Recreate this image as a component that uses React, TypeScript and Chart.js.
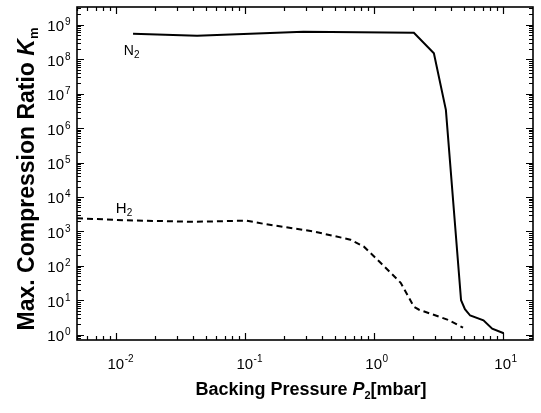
import React, { useEffect, useRef } from "react";
import { Chart, registerables } from "chart.js";

Chart.register(...registerables);

// Backing pressure P2 [mbar] and max. compression ratio Km
const n2Pressure = [0.0136, 0.0427, 0.285, 2.05, 2.93, 3.63, 4.76, 5.1, 5.6, 7.1, 8.3, 10.2];
const n2Ratio = [5.5e8, 4.8e8, 6.3e8, 5.9e8, 1.5e8, 3.4e6, 10, 5.5, 3.6, 2.6, 1.5, 1.1];

const h2Pressure = [0.005, 0.0122, 0.04, 0.103, 0.139, 0.341, 0.66, 0.84, 1.13, 1.62, 2.05, 2.25, 3.77, 4.93];
const h2Ratio = [2400, 2100, 1900, 2050, 1670, 1000, 575, 360, 123, 32, 6.5, 5.3, 2.7, 1.6];

const xDecades = [-2, -1, 0, 1];
const yDecades = [0, 1, 2, 3, 4, 5, 6, 7, 8, 9];

const xMin = 0.005;
const xMax = 17.2;
const yMin = 0.72;
const yMax = 3.3e9;

const FONT = '"Liberation Sans", Arial, Helvetica, sans-serif';

type Part = { text: string; font: string; dy: number };

function drawParts(ctx: CanvasRenderingContext2D, parts: Part[], x: number, y: number, align: "left" | "center" | "right") {
  let total = 0;
  const widths = parts.map((p) => {
    ctx.font = p.font;
    const w = ctx.measureText(p.text).width;
    total += w;
    return w;
  });
  let cx = align === "left" ? x : align === "center" ? x - total / 2 : x - total;
  ctx.textAlign = "left";
  parts.forEach((p, i) => {
    ctx.font = p.font;
    ctx.fillText(p.text, cx, y + p.dy);
    cx += widths[i];
  });
}

const decorPlugin = {
  id: "decor",
  afterDraw(chart: any) {
    const { ctx, chartArea: a, scales } = chart;
    const xs = scales.x;
    const ys = scales.y;
    ctx.save();
    ctx.strokeStyle = "#000";
    ctx.fillStyle = "#000";

    // ticks (inward, mirrored on all sides)
    ctx.lineWidth = 1.2;
    ctx.beginPath();
    for (let d = -3; d <= 1; d++) {
      for (let m = 1; m <= 9; m++) {
        const v = m * Math.pow(10, d);
        if (v < xMin * 0.999 || v > xMax) continue;
        const px = Math.round(xs.getPixelForValue(v)) + 0.5;
        const len = m === 1 ? 7 : 4;
        ctx.moveTo(px, a.bottom);
        ctx.lineTo(px, a.bottom - len);
        ctx.moveTo(px, a.top);
        ctx.lineTo(px, a.top + len);
      }
    }
    for (let d = -1; d <= 9; d++) {
      for (let m = 1; m <= 9; m++) {
        const v = m * Math.pow(10, d);
        if (v < yMin || v > yMax) continue;
        const py = Math.round(ys.getPixelForValue(v)) + 0.5;
        const len = m === 1 ? 7 : 4;
        ctx.moveTo(a.left, py);
        ctx.lineTo(a.left + len, py);
        ctx.moveTo(a.right, py);
        ctx.lineTo(a.right - len, py);
      }
    }
    ctx.stroke();

    // frame
    ctx.lineWidth = 1.6;
    ctx.strokeRect(a.left, a.top, a.right - a.left, a.bottom - a.top);

    // x tick labels
    ctx.textBaseline = "alphabetic";
    xDecades.forEach((e) => {
      const px = xs.getPixelForValue(Math.pow(10, e));
      ctx.font = `15px ${FONT}`;
      const w10 = ctx.measureText("10").width;
      ctx.textAlign = "left";
      ctx.fillText("10", px - w10 / 2, 369);
      ctx.font = `10px ${FONT}`;
      ctx.fillText(String(e), px + w10 / 2 + 0.5, 362);
    });

    // y tick labels
    yDecades.forEach((e) => {
      const py = ys.getPixelForValue(Math.pow(10, e));
      ctx.font = `15px ${FONT}`;
      ctx.textAlign = "right";
      ctx.fillText("10", 64, py + 6.5);
      ctx.textAlign = "left";
      ctx.font = `10px ${FONT}`;
      ctx.fillText(String(e), 65, py + 0.5);
    });

    // x title
    drawParts(
      ctx,
      [
        { text: "Backing Pressure ", font: `bold 18px ${FONT}`, dy: 0 },
        { text: "P", font: `italic bold 18px ${FONT}`, dy: 0 },
        { text: "2", font: `bold 11px ${FONT}`, dy: 4 },
        { text: "[mbar]", font: `bold 18px ${FONT}`, dy: 0 },
      ],
      311,
      395,
      "center"
    );

    // y title (rotated)
    ctx.save();
    ctx.translate(34, 179);
    ctx.rotate(-Math.PI / 2);
    drawParts(
      ctx,
      [
        { text: "Max. Compression Ratio ", font: `bold 23px ${FONT}`, dy: 0 },
        { text: "K", font: `italic bold 23px ${FONT}`, dy: 0 },
        { text: "m", font: `bold 13px ${FONT}`, dy: 4 },
      ],
      0,
      0,
      "center"
    );
    ctx.restore();

    // series labels
    const nx = xs.getPixelForValue(0.01154);
    const ny = ys.getPixelForValue(1.35e8);
    drawParts(
      ctx,
      [
        { text: "N", font: `14px ${FONT}`, dy: 0 },
        { text: "2", font: `10px ${FONT}`, dy: 3 },
      ],
      nx,
      ny,
      "left"
    );
    const hx = xs.getPixelForValue(0.01);
    const hy = ys.getPixelForValue(3480);
    drawParts(
      ctx,
      [
        { text: "H", font: `15px ${FONT}`, dy: 0 },
        { text: "2", font: `10px ${FONT}`, dy: 3 },
      ],
      hx,
      hy,
      "left"
    );

    ctx.restore();
  },
};

export default function App() {
  const ref = useRef<HTMLCanvasElement | null>(null);

  useEffect(() => {
    if (!ref.current) return;
    const chart = new Chart(ref.current, {
      type: "line",
      data: {
        datasets: [
          {
            label: "N2",
            data: n2Pressure.map((p, i) => ({ x: p, y: n2Ratio[i] })),
            borderColor: "#000",
            borderWidth: 2,
            pointRadius: 0,
            fill: false,
            tension: 0,
          },
          {
            label: "H2",
            data: h2Pressure.map((p, i) => ({ x: p, y: h2Ratio[i] })),
            borderColor: "#000",
            borderWidth: 2,
            borderDash: [6, 4],
            pointRadius: 0,
            fill: false,
            tension: 0,
          },
        ],
      },
      options: {
        animation: false,
        responsive: false,
        maintainAspectRatio: false,
        layout: { padding: { left: 0, top: 7, right: 8, bottom: 0 } },
        plugins: { legend: { display: false }, tooltip: { enabled: false } },
        scales: {
          x: {
            type: "logarithmic",
            min: xMin,
            max: xMax,
            ticks: { display: false },
            grid: { display: false },
            border: { display: false },
            afterFit: (s: any) => {
              s.height = 73;
            },
          },
          y: {
            type: "logarithmic",
            min: yMin,
            max: yMax,
            ticks: { display: false },
            grid: { display: false },
            border: { display: false },
            afterFit: (s: any) => {
              s.width = 77;
            },
          },
        },
      },
      plugins: [decorPlugin],
    });
    return () => chart.destroy();
  }, []);

  return (
    <div style={{ position: "absolute", left: 0, top: 0, width: 541, height: 413, background: "#fff" }}>
      <canvas ref={ref} width={541} height={413} style={{ width: 541, height: 413, display: "block" }} />
    </div>
  );
}
